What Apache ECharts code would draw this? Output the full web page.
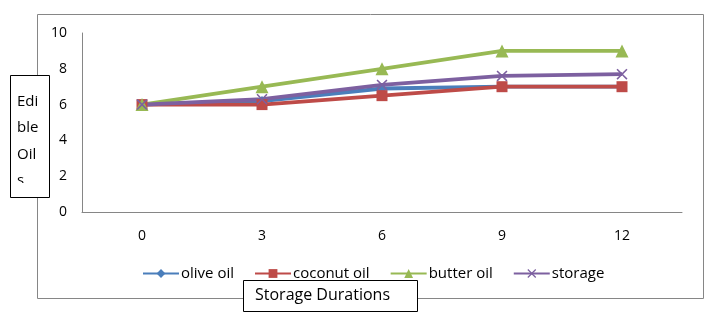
<!DOCTYPE html>
<html>
<head>
<meta charset="utf-8">
<style>
  html, body { margin: 0; padding: 0; background: #fff; }
  #chart { width: 717px; height: 322px; }
</style>
<script src="https://cdn.jsdelivr.net/npm/echarts@6/dist/echarts.min.js"></script>
</head>
<body>
<div id="chart"></div>
<script>
// Storage durations (months) on the x axis
const durations = ['0', '3', '6', '9', '12'];

// Readings for each oil across the storage durations
const oliveOil   = [6, 6.2, 6.9, 7, 7];
const coconutOil = [6, 6, 6.5, 7, 7];
const butterOil  = [6, 7, 8, 9, 9];
const storage    = [6, 6.3, 7.1, 7.6, 7.7];

const seriesNames = ['olive oil', 'coconut oil', 'butter oil', 'storage'];
const seriesColors = ['#4A7EBB', '#BE4B48', '#98B954', '#7D60A0'];

const FONT = 'Open Sans';
const crossPath = 'path://M1,0L5,4L9,0L10,1L6,5L10,9L9,10L5,6L1,10L0,9L4,5L0,1Z';

function lineSeries(name, data, color, symbol, size) {
  return {
    name, type: 'line', data, symbol, symbolSize: size,
    showAllSymbol: true,
    lineStyle: { color, width: 3.8 },
    itemStyle: { color, borderWidth: 0 },
    emphasis: { disabled: true },
    animation: false
  };
}

const chart = echarts.init(document.getElementById('chart'), null, { renderer: 'canvas' });
chart.setOption({
  backgroundColor: '#fff',
  animation: false,
  textStyle: { fontFamily: FONT },
  grid: { left: 82, right: 35, top: 33, bottom: 110 },
  legend: {
    left: 137, top: 261,
    itemWidth: 36, itemHeight: 11, itemGap: 20,
    textStyle: { fontFamily: FONT, fontSize: 15, color: '#000', padding: [0, 0, 0, -3] },
    data: seriesNames
  },
  xAxis: {
    type: 'category', data: durations, boundaryGap: true,
    axisLine: { lineStyle: { color: '#868686', width: 1 } },
    axisTick: { show: false },
    axisLabel: { color: '#000', fontSize: 14, fontFamily: FONT, margin: 17 }
  },
  yAxis: {
    type: 'value', min: 0, max: 10, interval: 2,
    axisLine: { show: true, lineStyle: { color: '#868686', width: 1 } },
    axisTick: { show: false },
    splitLine: { show: false },
    axisLabel: { color: '#000', fontSize: 14, fontFamily: FONT, margin: 15 }
  },
  series: [
    lineSeries(seriesNames[0], oliveOil, seriesColors[0], 'diamond', 10),
    lineSeries(seriesNames[1], coconutOil, seriesColors[1], 'rect', 11),
    lineSeries(seriesNames[2], butterOil, seriesColors[2], 'triangle', 13),
    lineSeries(seriesNames[3], storage, seriesColors[3], crossPath, 11)
  ],
  graphic: [
    // outer chart frame
    { type: 'rect', z: 0, silent: true,
      shape: { x: 37.5, y: 14.5, width: 666, height: 284 },
      style: { fill: 'none', stroke: '#868686', lineWidth: 1 } },
    // y axis title box, text cut off by its inner margin
    { type: 'rect', z: 10, silent: true,
      shape: { x: 10.5, y: 75.5, width: 39, height: 122 },
      style: { fill: '#fff', stroke: '#000', lineWidth: 1 } },
    { type: 'text', z: 11, silent: true, left: 17, top: 88,
      style: { text: 'Edi\nble\nOil\ns', fontFamily: FONT, fontSize: 15, lineHeight: 26.5, fill: '#000' } },
    { type: 'rect', z: 12, silent: true,
      shape: { x: 11, y: 183, width: 38, height: 14 },
      style: { fill: '#fff' } },
    // x axis title box, text cut off at the bottom
    { type: 'rect', z: 10, silent: true,
      shape: { x: 243.5, y: 280.5, width: 174, height: 31 },
      style: { fill: '#fff', stroke: '#000', lineWidth: 1 } },
    { type: 'text', z: 11, silent: true, left: 255, top: 287,
      style: { text: 'Storage Durations', fontFamily: FONT, fontSize: 16, fill: '#000' } },
    { type: 'rect', z: 12, silent: true,
      shape: { x: 244, y: 306, width: 173, height: 5 },
      style: { fill: '#fff' } }
  ]
});
</script>
</body>
</html>
